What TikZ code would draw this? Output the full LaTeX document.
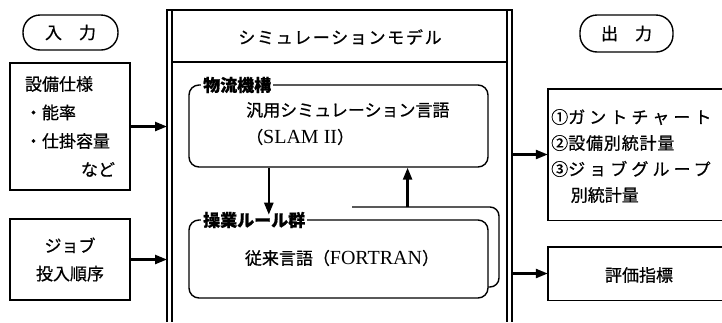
\documentclass[tikz,border=0pt]{standalone}
\usepackage{fontspec}
\setmainfont{Liberation Serif}
\newfontfamily\jp[FakeBold=0.7]{Noto Sans CJK JP}
\newcommand\latn[1]{{\rmfamily\fontsize{20}{24}\selectfont #1}}
\usetikzlibrary{arrows.meta,calc}
\begin{document}
\begin{tikzpicture}[x=1pt,y=-1pt,
  every node/.style={inner sep=0pt,font=\jp\fontsize{17}{28.5}\selectfont},
  box/.style={draw,line width=1.4pt},
  stad/.style={draw,line width=1.4pt,rounded corners=17pt},
  rbox/.style={draw,line width=1.4pt,rounded corners=10pt},
  lab/.style={fill=white,inner xsep=2pt,inner ysep=1pt,font=\jp\bfseries\fontsize{17}{20}\selectfont},
  frame/.style={line width=1.3pt},
  arr/.style={line width=2.4pt,-{Triangle[length=12pt,width=9pt]}}]
\useasboundingbox (0,0) rectangle (722,322);

% input side
\node[stad,minimum width=95,minimum height=35] (in) at (70.5,32.5) {入　力};
\node[box,minimum width=120,minimum height=127,text width=90,align=left] (spec) at (70,126.5)
  {設備仕様\\・能率\\・仕掛容量\\\hspace*{\fill}など\hspace*{2pt}};
\node[box,minimum width=120,minimum height=81,align=center,font=\jp\fontsize{17}{28}\selectfont] (job) at (70,259.5) {ジョブ\\投入順序};

% simulation model frame
\coordinate (fL) at (167,10);
\coordinate (fiL) at (172,62);
\coordinate (fiR) at (507,62);
\coordinate (fR) at (512,10);
\draw[frame] (167,322) -- (fL) -- (fR) -- (512,322);
\draw[frame] (172,10) -- (172,322);
\draw[frame] (507,10) -- (507,322);
\draw[frame] (fiL) -- (fiR);
\node (hdr) at (340,37) {\addfontfeature{LetterSpace=10}シミュレーションモデル};

% upper box
\node[rbox,minimum width=299,minimum height=82] (u) at (338.5,126) {};
\node[lab,anchor=west] (ul) at (201,85) {物流機構};
\node[anchor=west] (ut1) at (246,110) {汎用シミュレーション言語};
\node[anchor=west] (ut2) at (246,137) {（\latn{SLAM II}）};

% lower box with back card
\coordinate (bk1) at (352,207);
\coordinate (bk2) at (499,287);
\coordinate (bk3) at (486,287);
\draw[line width=1.4pt,rounded corners=9pt] (bk1) -| (bk2) -- (bk3);
\node[rbox,fill=white,minimum width=299,minimum height=78] (l) at (338.5,259) {};
\node[lab,anchor=west] (ll) at (201,220) {操業ルール群};
\node (lt) at (342,258) {従来言語（\latn{FORTRAN}）};

% arrows between boxes
\coordinate (dA) at ($(u.south west)!0.268!(u.south east)$);
\draw[arr] (dA) -- ([yshift=-4pt]dA |- ll.north);
\coordinate (uA) at ($(u.south west)!0.73!(u.south east)$);
\draw[arr] (uA |- bk1) -- (uA);

% input arrows
\draw[arr] (spec.east) -- (spec.east -| fL);
\draw[arr] (job.east) -- (job.east -| fL);

% output side
\node[stad,minimum width=93,minimum height=37] (out) at (626.5,33.5) {出　力};
\node[minimum width=174,minimum height=131] (o1) at (635,154.5) {};
\draw[box] (o1.north east) -- (o1.north west) -- (o1.south west) -- (o1.south east);
\node[anchor=west,align=left,font=\jp\fontsize{17}{26}\selectfont] (o1t) at (551,156)
  {①{\addfontfeature{LetterSpace=24}ガントチャート}\\②{\addfontfeature{LetterSpace=5}設備別統計量}\\③{\addfontfeature{LetterSpace=24}ジョブグループ}\\\hspace*{1.15em}別統計量};
\node[minimum width=174,minimum height=53] (o2) at (635,273.5) {};
\draw[box] (o2.north east) -- (o2.north west) -- (o2.south west) -- (o2.south east);
\node (o2t) at (639,275) {評価指標};

\draw[arr] (o1.west -| fR) -- (o1.west);
\draw[arr] (o2.west -| fR) -- (o2.west);
\end{tikzpicture}
\end{document}
